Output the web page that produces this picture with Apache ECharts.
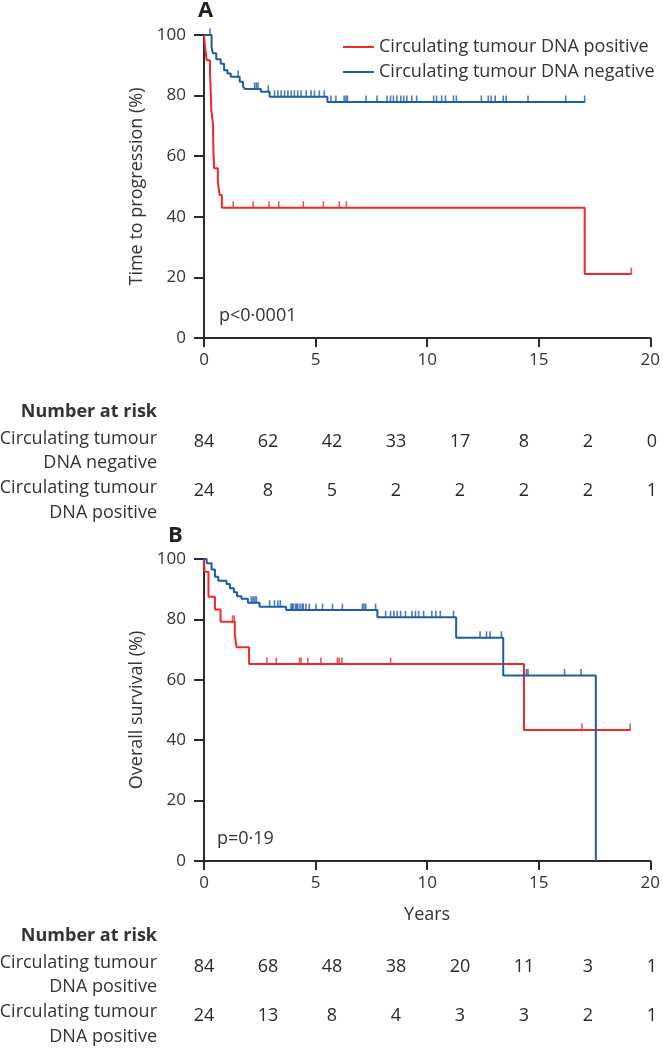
<!DOCTYPE html>
<html>
<head>
<meta charset="utf-8">
<script src="https://cdn.jsdelivr.net/npm/echarts@6/dist/echarts.min.js"></script>
<style>
html,body{margin:0;padding:0;background:#fff;}
#chart{width:663px;height:1050px;}
</style>
</head>
<body>
<div id="chart"></div>
<script>
// ---------- DATA ----------
const seriesNames = ['Circulating tumour DNA positive', 'Circulating tumour DNA negative'];
const xTicks = [0, 5, 10, 15, 20];
const yTicks = [0, 20, 40, 60, 80, 100];

// Panel A: time to progression, [years, %] step points
const posA_steps = [[0,100],[0.05,95.8],[0.12,91.7],[0.27,87.5],[0.33,75],[0.40,70.8],[0.42,62.5],[0.45,56],[0.62,51.6],[0.70,47.2],[0.80,43],[17.06,21.1],[19.15,21.1]];
const posA_censor = [1.31, 2.2, 2.91, 3.35, 4.45, 5.35, 6.06, 6.38, 19.15];
const negA_steps = [[0,100],[0.34,96],[0.40,94],[0.55,92],[0.75,90.5],[0.90,88.4],[1.05,87.3],[1.2,86.2],[1.6,84.6],[1.75,83],[1.83,82.2],[2.55,81.3],[2.94,79.6],[5.53,77.9],[17.06,77.9]];
const negA_censor = [0.27, 1.53, 2.27, 2.35, 2.42, 2.88, 3.16, 3.31, 3.46, 3.61, 3.76, 3.91, 4.05, 4.2, 4.35, 4.58, 4.8, 4.95, 5.17, 5.39, 5.69, 5.91, 6.28, 6.36, 6.43, 7.26, 7.75, 8.2, 8.36, 8.49, 8.64, 8.82, 8.95, 9.09, 9.31, 9.53, 10.29, 10.42, 10.65, 10.82, 11.18, 11.31, 12.43, 12.74, 12.87, 13.05, 13.41, 13.54, 14.52, 16.21, 17.06];

// Panel B: overall survival
const posB_steps = [[0,100],[0.02,95.8],[0.2,87.5],[0.49,83.3],[0.74,79.2],[1.38,75],[1.46,70.8],[2.02,65.2],[14.34,43.4],[19.1,43.4]];
const posB_censor = [1.28, 1.36, 2.82, 3.24, 4.28, 4.35, 4.65, 5.24, 5.98, 6.06, 6.18, 8.36, 16.94, 19.1];
const negB_steps = [[0,100],[0.12,98.6],[0.34,96.5],[0.49,94.1],[0.64,92.8],[1.01,91.7],[1.16,90.3],[1.34,89],[1.48,87.7],[1.68,86.8],[1.97,85.5],[2.49,84.2],[3.68,83.1],[7.77,80.7],[11.3,73.9],[13.41,61.4],[17.56,0]];
const negB_censor = [2.12, 2.2, 2.28, 2.35, 2.94, 3.16, 3.31, 3.42, 3.9, 3.95, 4.0, 4.1, 4.15, 4.2, 4.3, 4.4, 4.45, 4.57, 4.72, 5.02, 5.31, 5.76, 6.2, 7.1, 7.17, 7.25, 7.69, 8.14, 8.36, 8.51, 8.66, 8.81, 9.03, 9.32, 9.48, 9.62, 9.84, 10.21, 10.39, 10.59, 11.18, 12.37, 12.66, 12.82, 13.33, 14.45, 14.52, 16.16, 16.9];

// Number at risk
const riskColumns = ['c1','c2','c3','c4','c5','c6','c7','c8'];
const riskA_row1 = [84, 62, 42, 33, 17, 8, 2, 0];
const riskA_row2 = [24, 8, 5, 2, 2, 2, 2, 1];
const riskB_row1 = [84, 68, 48, 38, 20, 11, 3, 1];
const riskB_row2 = [24, 13, 8, 4, 3, 3, 2, 1];
const riskA_labels = ['Circulating tumour', 'DNA negative', 'Circulating tumour', 'DNA positive'];
const riskB_labels = ['Circulating tumour', 'DNA positive', 'Circulating tumour', 'DNA positive'];

// ---------- BUILD ----------
const RED = '#f0282a', BLUE = '#1f5ca8', AX = '#2b2b2b', TXT = '#333';
const FONT = 'Open Sans';
const FS = 18;

function levelAt(steps, t) {
  let v = steps[0][1];
  for (const [x, y] of steps) { if (x <= t) v = y; else break; }
  return v;
}
function censorData(steps, times) { return times.map(t => [t, levelAt(steps, t)]); }

function valueX(gi, showName) {
  return {
    type: 'value', gridIndex: gi, min: 0, max: 20, interval: 5,
    axisLine: { show: true, lineStyle: { color: AX, width: 2 } },
    axisTick: { show: true, length: 9, lineStyle: { color: AX, width: 2 } },
    axisLabel: { color: TXT, fontSize: 17, fontFamily: FONT, margin: 14 },
    splitLine: { show: false },
    name: showName ? 'Years' : '', nameLocation: 'middle', nameGap: 45,
    nameTextStyle: { color: TXT, fontSize: FS, fontFamily: FONT }
  };
}
function valueY(gi, title) {
  return {
    type: 'value', gridIndex: gi, min: 0, max: 100, interval: 20,
    axisLine: { show: true, lineStyle: { color: AX, width: 2 } },
    axisTick: { show: true, length: 10, lineStyle: { color: AX, width: 2 } },
    axisLabel: { color: TXT, fontSize: 17, fontFamily: FONT, margin: 18 },
    splitLine: { show: false },
    name: title, nameLocation: 'middle', nameGap: 54,
    nameTextStyle: { color: TXT, fontSize: FS, fontFamily: FONT }
  };
}
function stepSeries(name, steps, color, gi) {
  return { name: name, type: 'line', step: 'end', xAxisIndex: gi, yAxisIndex: gi,
    data: steps, symbol: 'none', lineStyle: { color: color, width: 2 }, itemStyle: { color: color },
    animation: false };
}
function censorSeries(name, steps, times, color, gi) {
  return { name: name, type: 'scatter', xAxisIndex: gi, yAxisIndex: gi,
    data: censorData(steps, times), symbol: 'rect', symbolSize: [1.6, 7], symbolOffset: [0, -3],
    itemStyle: { color: color }, animation: false, z: 3 };
}
function riskSeries(name, row1, row2, gi) {
  const data = [];
  row1.forEach((v, i) => data.push([riskColumns[i], 'r1', v]));
  row2.forEach((v, i) => data.push([riskColumns[i], 'r2', v]));
  return { name: name, type: 'scatter', xAxisIndex: gi, yAxisIndex: gi, data: data,
    symbolSize: 1, itemStyle: { color: 'rgba(255,255,255,0)' }, animation: false, silent: true,
    label: { show: true, position: 'inside', formatter: p => String(p.value[2]),
      color: '#2a2a2a', opacity: 1, fontSize: FS, fontFamily: FONT, textBorderWidth: 0 } };
}
function riskX(gi) {
  return { type: 'category', gridIndex: gi, data: riskColumns, boundaryGap: false,
    axisLine: { show: false }, axisTick: { show: false }, axisLabel: { show: false }, splitLine: { show: false } };
}
function riskY(gi) {
  return { type: 'category', gridIndex: gi, data: ['r1', 'r2'], inverse: true, boundaryGap: false,
    axisLine: { show: false }, axisTick: { show: false }, axisLabel: { show: false }, splitLine: { show: false } };
}
function rowText(text, y, bold) {
  return { type: 'text', right: 663 - 157, top: y - 8,
    style: { text: text, fill: TXT, fontSize: FS, fontFamily: FONT, fontWeight: bold ? 'bold' : 'normal', textAlign: 'right' } };
}

const grids = [
  { left: 204, right: 11, top: 35, height: 303 },
  { left: 204, right: 11, top: 559, height: 302 },
  { left: 204, right: 11, top: 442, height: 49 },
  { left: 204, right: 11, top: 967, height: 49 }
];

const option = {
  backgroundColor: '#fff',
  animation: false,
  grid: grids,
  xAxis: [valueX(0, false), valueX(1, true), riskX(2), riskX(3)],
  yAxis: [valueY(0, 'Time to progression (%)'), valueY(1, 'Overall survival (%)'), riskY(2), riskY(3)],
  legend: {
    data: seriesNames, orient: 'vertical', left: 338, top: 32, itemWidth: 31, itemHeight: 2,
    itemGap: 5, icon: 'rect', selectedMode: false,
    textStyle: { color: TXT, fontSize: FS, fontFamily: FONT, lineHeight: 20 }
  },
  series: [
    stepSeries(seriesNames[0], posA_steps, RED, 0),
    stepSeries(seriesNames[1], negA_steps, BLUE, 0),
    censorSeries('posA censored', posA_steps, posA_censor, RED, 0),
    censorSeries('negA censored', negA_steps, negA_censor, BLUE, 0),
    stepSeries(seriesNames[0], posB_steps, RED, 1),
    stepSeries(seriesNames[1], negB_steps, BLUE, 1),
    censorSeries('posB censored', posB_steps, posB_censor, RED, 1),
    censorSeries('negB censored', negB_steps, negB_censor, BLUE, 1),
    riskSeries('risk A', riskA_row1, riskA_row2, 2),
    riskSeries('risk B', riskB_row1, riskB_row2, 3)
  ],
  graphic: [
    { type: 'text', left: 198, top: 0, style: { text: 'A', fill: '#222', fontSize: 22, fontWeight: 'bold', fontFamily: FONT } },
    { type: 'text', left: 168, top: 525, style: { text: 'B', fill: '#222', fontSize: 22, fontWeight: 'bold', fontFamily: FONT } },
    { type: 'text', left: 219, top: 307, style: { text: 'p<0·0001', fill: TXT, fontSize: FS, fontFamily: FONT } },
    { type: 'text', left: 217, top: 830, style: { text: 'p=0·19', fill: TXT, fontSize: FS, fontFamily: FONT } },
    rowText('Number at risk', 411, true),
    rowText(riskA_labels[0], 438), rowText(riskA_labels[1], 462),
    rowText(riskA_labels[2], 487), rowText(riskA_labels[3], 512),
    rowText('Number at risk', 935, true),
    rowText(riskB_labels[0], 962), rowText(riskB_labels[1], 986),
    rowText(riskB_labels[2], 1011), rowText(riskB_labels[3], 1036)
  ]
};

const chart = echarts.init(document.getElementById('chart'), null, { renderer: 'canvas' });
chart.setOption(option);
</script>
</body>
</html>
